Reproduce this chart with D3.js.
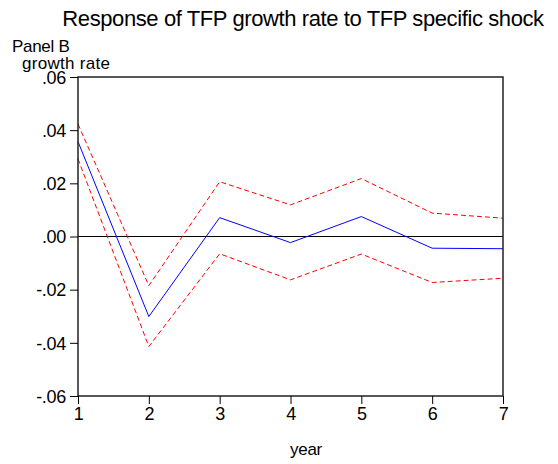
<!DOCTYPE html>
<html lang="en">
<head>
    <meta charset="UTF-8">
    <title>Response of TFP growth rate</title>
    <script src="https://d3js.org/d3.v7.min.js"></script>
    <style>
        body { margin: 0; background: #fff; }
        text { font-family: "Liberation Sans", Arial, sans-serif; fill: #000; }
    </style>
</head>
<body>
    <div id="chart"></div>

    <script>
        // Data
        var years = [1, 2, 3, 4, 5, 6, 7];
        var response = [0.0357, -0.0301, 0.0071, -0.0023, 0.0075, -0.0044, -0.0046];
        var upperBand = [0.0423, -0.0185, 0.0206, 0.0119, 0.0218, 0.0088, 0.0069];
        var lowerBand = [0.0292, -0.0414, -0.0065, -0.0163, -0.0066, -0.0173, -0.0157];
        var yTicks = [0.06, 0.04, 0.02, 0, -0.02, -0.04, -0.06];

        var width = 558, height = 464;
        var margin = { top: 77, right: 55, bottom: 68, left: 78 };

        var svg = d3.select("#chart")
            .append("svg")
            .attr("width", width)
            .attr("height", height);

        var x = d3.scaleLinear()
            .domain([1, 7])
            .range([margin.left, width - margin.right]);

        var y = d3.scaleLinear()
            .domain([-0.06, 0.06])
            .range([height - margin.bottom, margin.top]);

        // tick label format like ".04" / "-.02"
        function fmt(v) {
            var s = d3.format(".2f")(Math.abs(v)).replace(/^0/, "");
            return (v < 0 ? "-" : "") + s;
        }

        // zero line
        svg.append("line")
            .attr("x1", x(1)).attr("x2", x(7))
            .attr("y1", y(0)).attr("y2", y(0))
            .attr("stroke", "#000")
            .attr("stroke-width", 1);

        var line = d3.line()
            .x(function(d, i) { return x(years[i]); })
            .y(function(d) { return y(d); });

        // confidence bands
        [upperBand, lowerBand].forEach(function(band) {
            svg.append("path")
                .attr("d", line(band))
                .attr("fill", "none")
                .attr("stroke", "#ff0000")
                .attr("stroke-width", 1)
                .attr("stroke-dasharray", "5,3");
        });

        // response
        svg.append("path")
            .attr("d", line(response))
            .attr("fill", "none")
            .attr("stroke", "#0000ff")
            .attr("stroke-width", 1);

        // frame
        svg.append("rect")
            .attr("x", x(1)).attr("y", y(0.06))
            .attr("width", x(7) - x(1))
            .attr("height", y(-0.06) - y(0.06))
            .attr("fill", "none")
            .attr("stroke", "#222")
            .attr("stroke-width", 1.5);

        // axes
        var yAxis = d3.axisLeft(y)
            .tickValues(yTicks)
            .tickSize(8)
            .tickPadding(4)
            .tickFormat(fmt);

        var xAxis = d3.axisBottom(x)
            .tickValues(years)
            .tickSize(8)
            .tickPadding(3)
            .tickFormat(d3.format("d"));

        var gy = svg.append("g")
            .attr("transform", "translate(" + x(1) + ",0)")
            .call(yAxis);

        var gx = svg.append("g")
            .attr("transform", "translate(0," + y(-0.06) + ")")
            .call(xAxis);

        [gx, gy].forEach(function(g) {
            g.select(".domain").remove();
            g.selectAll("line").attr("stroke", "#000").attr("stroke-width", 1);
            g.selectAll("text")
                .attr("font-size", 18)
                .attr("letter-spacing", -0.3)
                .attr("font-family", "Liberation Sans, Arial, sans-serif")
                .attr("fill", "#000");
        });
        gy.selectAll("text").attr("dy", "0.35em");

        // titles
        svg.append("text")
            .attr("x", 303).attr("y", 26)
            .attr("text-anchor", "middle")
            .attr("font-size", 22)
            .attr("letter-spacing", -0.4)
            .text("Response of TFP growth rate to TFP specific shock");

        svg.append("text")
            .attr("x", 12).attr("y", 52)
            .attr("font-size", 17)
            .attr("letter-spacing", -0.3)
            .text("Panel B");

        svg.append("text")
            .attr("x", 22).attr("y", 69)
            .attr("font-size", 17)
            .attr("letter-spacing", 0.3)
            .text("growth rate");

        svg.append("text")
            .attr("x", 306).attr("y", 455)
            .attr("text-anchor", "middle")
            .attr("font-size", 17)
            .attr("letter-spacing", -0.3)
            .text("year");
    </script>
</body>
</html>
